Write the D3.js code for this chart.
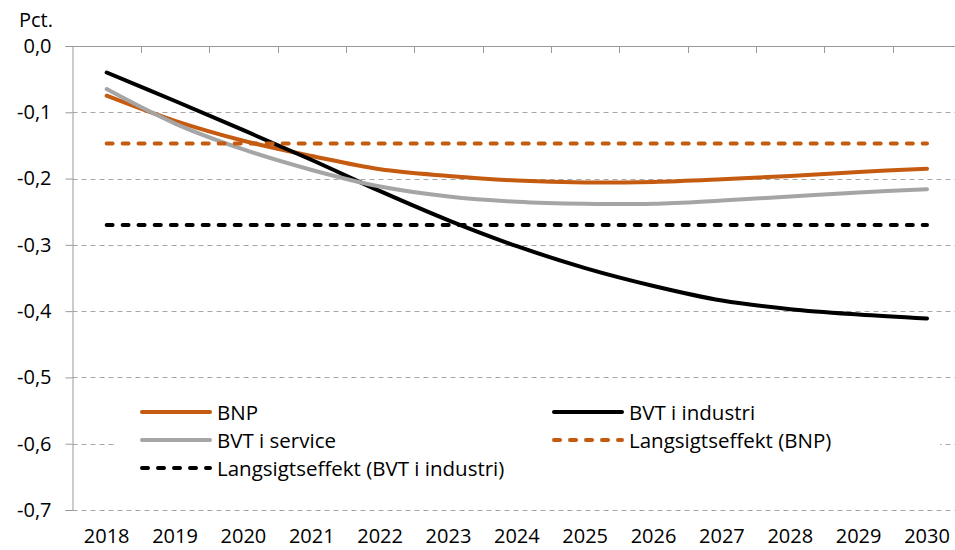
<!DOCTYPE html>
<html>
<head>
<meta charset="utf-8">
<script src="https://cdn.jsdelivr.net/npm/d3@7"></script>
<style>
  body { margin: 0; background: #fff; }
  svg { display: block; font-family: "Open Sans", Lato, sans-serif; }
</style>
</head>
<body>
<svg width="955" height="550"></svg>
<script>
const years = ["2018", "2019", "2020", "2021", "2022", "2023", "2024", "2025", "2026", "2027", "2028", "2029", "2030"];
const bnp = [-0.075, -0.113, -0.143, -0.166, -0.186, -0.196, -0.203, -0.206, -0.205, -0.201, -0.196, -0.190, -0.185];
const bvtIndustri = [-0.040, -0.083, -0.127, -0.172, -0.219, -0.263, -0.302, -0.335, -0.362, -0.384, -0.397, -0.405, -0.411];
const bvtService = [-0.065, -0.117, -0.156, -0.187, -0.212, -0.227, -0.235, -0.238, -0.238, -0.233, -0.227, -0.221, -0.216];
const langBnp = [-0.147, -0.147, -0.147, -0.147, -0.147, -0.147, -0.147, -0.147, -0.147, -0.147, -0.147, -0.147, -0.147];
const langIndustri = [-0.270, -0.270, -0.270, -0.270, -0.270, -0.270, -0.270, -0.270, -0.270, -0.270, -0.270, -0.270, -0.270];
const yTicks = [0, -0.1, -0.2, -0.3, -0.4, -0.5, -0.6, -0.7];

const series = [
  {name: "BNP", values: bnp, color: "#C55A11", dash: null},
  {name: "BVT i industri", values: bvtIndustri, color: "#000000", dash: null},
  {name: "BVT i service", values: bvtService, color: "#A5A5A5", dash: null},
  {name: "Langsigtseffekt (BNP)", values: langBnp, color: "#C55A11", dash: "6,10"},
  {name: "Langsigtseffekt (BVT i industri)", values: langIndustri, color: "#000000", dash: "6,10"}
];

const width = 955, height = 550;
const plotLeft = 72.5, plotTop = 46, plotBottom = 510;
const band = 68.36;
const fontSize = "20px";

const svg = d3.select("svg");

const x = d3.scaleBand()
    .domain(years)
    .range([plotLeft, plotLeft + band * years.length]);

const y = d3.scaleLinear()
    .domain([0, -0.7])
    .range([plotTop, plotBottom]);

// gridlines
svg.append("g")
    .selectAll("line")
    .data(yTicks.filter(d => d !== 0))
    .enter().append("line")
    .attr("x1", plotLeft)
    .attr("x2", width)
    .attr("y1", d => Math.round(y(d)) + 0.5)
    .attr("y2", d => Math.round(y(d)) + 0.5)
    .attr("stroke", "#a6a6a6")
    .attr("stroke-width", 1)
    .attr("stroke-dasharray", "5,4");

// y axis
const yAxis = svg.append("g")
    .attr("transform", `translate(${plotLeft},0)`)
    .call(d3.axisLeft(y).tickValues(yTicks).tickSize(7).tickPadding(14)
        .tickFormat(d => d3.format(".1f")(d).replace(".", ",").replace("−", "-")));
yAxis.select(".domain").attr("stroke", "#999");
yAxis.selectAll(".tick line").attr("stroke", "#999");
yAxis.selectAll(".tick text")
    .attr("font-size", fontSize)
    .attr("fill", "#000")
    .attr("font-family", "'Open Sans', sans-serif");

// x axis at zero line, ticks between categories
const xAxisG = svg.append("g");
xAxisG.append("line")
    .attr("x1", plotLeft - 7)
    .attr("x2", width)
    .attr("y1", y(0) + 0.5)
    .attr("y2", y(0) + 0.5)
    .attr("stroke", "#999");
xAxisG.selectAll("line.tk")
    .data(years.slice(1))
    .enter().append("line")
    .attr("class", "tk")
    .attr("x1", d => Math.round(x(d)) + 0.5)
    .attr("x2", d => Math.round(x(d)) + 0.5)
    .attr("y1", y(0))
    .attr("y2", y(0) + 7)
    .attr("stroke", "#999");

// x labels at the bottom
svg.append("g")
    .selectAll("text")
    .data(years)
    .enter().append("text")
    .attr("x", d => x(d) + x.bandwidth() / 2)
    .attr("y", 543)
    .attr("text-anchor", "middle")
    .attr("font-size", fontSize)
    .text(d => d);

// unit label
svg.append("text")
    .attr("x", 19)
    .attr("y", 27)
    .attr("font-size", fontSize)
    .text("Pct.");

// series lines
const line = d3.line()
    .x((d, i) => x(years[i]) + x.bandwidth() / 2)
    .y(d => y(d))
    .curve(d3.curveCatmullRom.alpha(0.5));

series.forEach(s => {
  svg.append("path")
      .datum(s.values)
      .attr("d", line)
      .attr("fill", "none")
      .attr("stroke", s.color)
      .attr("stroke-width", 4)
      .attr("stroke-linecap", "round")
      .attr("stroke-dasharray", s.dash);
});

// legend
const legend = svg.append("g");
legend.append("rect")
    .attr("x", 115)
    .attr("y", 392)
    .attr("width", 825)
    .attr("height", 92)
    .attr("fill", "#fff");

const legendPos = [
  {x: 142, y: 412},
  {x: 554, y: 412},
  {x: 142, y: 440},
  {x: 554, y: 440},
  {x: 142, y: 468}
];

series.forEach((s, i) => {
  const p = legendPos[i];
  legend.append("line")
      .attr("x1", p.x)
      .attr("x2", p.x + 68)
      .attr("y1", p.y)
      .attr("y2", p.y)
      .attr("stroke", s.color)
      .attr("stroke-width", 4)
      .attr("stroke-linecap", "round")
      .attr("stroke-dasharray", s.dash);
  legend.append("text")
      .attr("x", p.x + 75)
      .attr("y", p.y + 7.5)
      .attr("font-size", "20.5px")
      .text(s.name);
});
</script>
</body>
</html>
